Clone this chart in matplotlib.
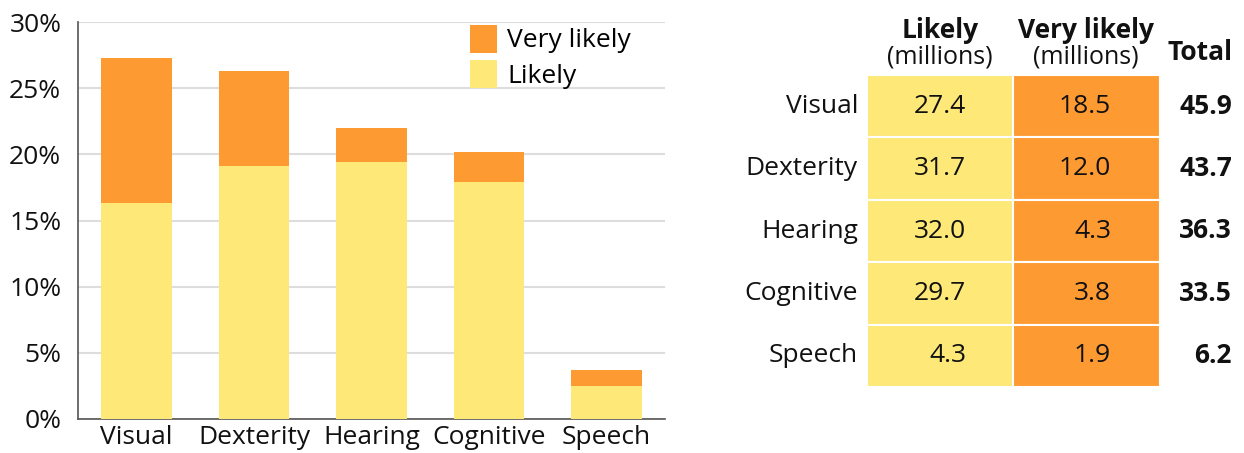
import matplotlib
matplotlib.use("Agg")
import matplotlib.pyplot as plt
from matplotlib.patches import Rectangle
from matplotlib.ticker import FuncFormatter

plt.rcParams['font.family'] = ['Open Sans', 'DejaVu Sans']

categories = ["Visual", "Dexterity", "Hearing", "Cognitive", "Speech"]
likely_pct = [16.3, 19.1, 19.4, 17.9, 2.5]
very_likely_pct = [11.0, 7.2, 2.6, 2.3, 1.2]
likely_millions = ["27.4", "31.7", "32.0", "29.7", "4.3"]
very_likely_millions = ["18.5", "12.0", "4.3", "3.8", "1.9"]
total_millions = ["45.9", "43.7", "36.3", "33.5", "6.2"]
yticks = [0, 5, 10, 15, 20, 25, 30]

ORANGE = '#FE9A32'
YELLOW = '#FEE877'
FS = 19

W, H = 1244, 453
fig = plt.figure(figsize=(W / 100, H / 100), dpi=100)

# ---- bar chart ----
ax = fig.add_axes([78 / W, (H - 419) / H, (665 - 78) / W, (419 - 22) / H])
x = list(range(len(categories)))
ax.bar(x, likely_pct, width=0.6, color=YELLOW, label="Likely", zorder=3)
ax.bar(x, very_likely_pct, width=0.6, bottom=likely_pct, color=ORANGE,
       label="Very likely", zorder=3)
ax.set_xlim(-0.5, 4.5)
ax.set_ylim(0, 30)
ax.set_yticks(yticks)
ax.yaxis.set_major_formatter(FuncFormatter(lambda v, p: f"{v:.0f}%"))
ax.set_xticks(x)
ax.set_xticklabels(categories)
ax.tick_params(axis='both', length=0, labelsize=FS, colors='#111111')
ax.tick_params(axis='y', pad=12)
ax.tick_params(axis='x', pad=4)
ax.grid(axis='y', color='#dddddd', linewidth=1.5, zorder=0)
for s in ['top', 'right']:
    ax.spines[s].set_visible(False)
for s in ['left', 'bottom']:
    ax.spines[s].set_color('#555555')
    ax.spines[s].set_linewidth(1.2)
h, l = ax.get_legend_handles_labels()
ax.legend(h[::-1], l[::-1], loc='upper right', bbox_to_anchor=(0.96, 1.02),
          frameon=False, fontsize=FS, handlelength=1.0, handleheight=1.25,
          handletextpad=0.4, labelspacing=0.25, borderaxespad=0)

# ---- table ----
tx = fig.add_axes([0, 0, 1, 1])
tx.set_xlim(0, W)
tx.set_ylim(H, 0)
tx.axis('off')
col_l = (867, 1013)
col_v = (1013, 1160)
top, row_h = 75, 62.4
for i, cat in enumerate(categories):
    y0 = top + i * row_h
    tx.add_patch(Rectangle((col_l[0], y0), col_l[1] - col_l[0], row_h,
                           facecolor=YELLOW, edgecolor='white', linewidth=1.5))
    tx.add_patch(Rectangle((col_v[0], y0), col_v[1] - col_v[0], row_h,
                           facecolor=ORANGE, edgecolor='white', linewidth=1.5))
    yc = y0 + row_h / 2
    tx.text(858, yc, cat, ha='right', va='center', fontsize=FS, color='#111111')
    tx.text(966, yc, likely_millions[i], ha='right', va='center', fontsize=FS, color='#111111')
    tx.text(1111, yc, very_likely_millions[i], ha='right', va='center', fontsize=FS, color='#111111')
    tx.text(1232, yc, total_millions[i], ha='right', va='center', fontsize=FS,
            fontweight='bold', color='#111111')

tx.text(940, 30, "Likely", ha='center', va='center', fontsize=FS, fontweight='bold', color='#111111')
tx.text(940, 57, "(millions)", ha='center', va='center', fontsize=FS - 1, color='#111111')
tx.text(1086, 30, "Very likely", ha='center', va='center', fontsize=FS, fontweight='bold', color='#111111')
tx.text(1086, 57, "(millions)", ha='center', va='center', fontsize=FS - 1, color='#111111')
tx.text(1233, 53, "Total", ha='right', va='center', fontsize=FS, fontweight='bold', color='#111111')

fig.savefig("out.png", dpi=100)
